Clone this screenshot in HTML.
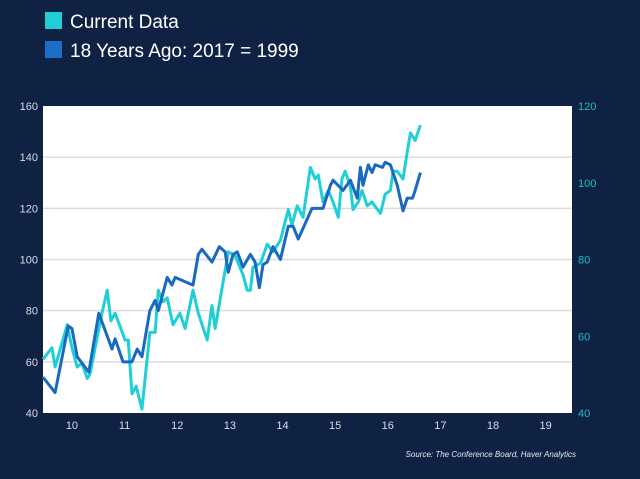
<!DOCTYPE html>
<html><head><meta charset="utf-8"><style>
html,body{margin:0;padding:0;background:#102243;}
svg{display:block;font-family:"Liberation Sans",Arial,sans-serif;}
</style></head><body>
<svg id="chart" width="640" height="479" viewBox="0 0 640 479">
<rect width="640" height="479" fill="#102243"/>
<g>
<rect x="45" y="12" width="17" height="17" fill="#1fcfd6"/>
<text x="70" y="28" font-size="19" fill="#ffffff">Current Data</text>
<rect x="45" y="41" width="17" height="17" fill="#1a6fc9"/>
<text x="70" y="57" font-size="19" fill="#ffffff">18 Years Ago: 2017 = 1999</text>
</g>
<rect x="43" y="106" width="529" height="307" fill="#ffffff"/>
<g id="grid"></g><g id="axes"></g><g id="series"></g>
<text x="576" y="457" font-size="8" font-style="italic" fill="#e6e9f0" text-anchor="end">Source: The Conference Board, Haver Analytics</text>
</svg>
<script>
const leftTicks=[40,60,80,100,120,140,160];
const rightTicks=[40,60,80,100,120];
const xTicks=[10,11,12,13,14,15,16,17,18,19];
const pastX=[9.45,9.68,9.93,10.0,10.1,10.32,10.51,10.76,10.82,10.97,11.14,11.24,11.33,11.48,11.58,11.64,11.81,11.9,11.96,12.3,12.4,12.47,12.66,12.8,12.91,12.97,13.06,13.14,13.25,13.39,13.48,13.56,13.63,13.71,13.82,13.96,14.11,14.2,14.3,14.56,14.77,14.91,14.96,15.15,15.29,15.42,15.48,15.53,15.63,15.7,15.76,15.9,15.95,16.05,16.18,16.29,16.37,16.47,16.52,16.62];
const pastY=[54,48,74,73,62,56,79,65,69,60,60,65,62,80,84,80,93,90,93,90,102,104,99,105,103,95,102,103,97,102,99,89,98,99,105,100,113,113,108,120,120,129,131,127,131,124,136,129,137,134,137,136,138,137,129,119,124,124,127,134];
const curX=[9.45,9.62,9.68,9.91,10.0,10.1,10.19,10.29,10.34,10.57,10.67,10.74,10.82,11.01,11.07,11.14,11.22,11.33,11.48,11.58,11.64,11.73,11.81,11.92,12.05,12.15,12.3,12.4,12.57,12.66,12.72,12.97,13.1,13.25,13.33,13.39,13.44,13.58,13.71,13.82,13.96,14.11,14.18,14.28,14.39,14.53,14.62,14.68,14.77,14.87,14.96,15.06,15.13,15.19,15.29,15.34,15.44,15.51,15.61,15.7,15.86,15.95,16.05,16.1,16.18,16.29,16.37,16.43,16.52,16.62];
const curY=[54,57,52,63,57,52,53,49,50,66,72,64,66,59,59,45,47,41,61,61,72,69,70,63,66,62,72,66,59,68,62,82,81,76,72,72,78,79,84,82,85,93,89,94,91,104,101,102,95,98,95,91,101,103,99,93,95,98,94,95,92,97,98,103,103,101,108,113,111,115];
const X0=43,X1=572,Y0=413,Y1=106;
const xs=v=>X0+(v-9.45)/(19.5-9.45)*(X1-X0);
const yL=v=>Y0+(v-40)/(160-40)*(Y1-Y0);
const yR=v=>Y0+(v-40)/(120-40)*(Y1-Y0);
const NS="http://www.w3.org/2000/svg";
function mk(t,a,p){const e=document.createElementNS(NS,t);for(const k in a)e.setAttribute(k,a[k]);p.appendChild(e);return e;}
const grid=document.getElementById('grid'),axes=document.getElementById('axes'),ser=document.getElementById('series');
leftTicks.forEach(t=>{
 if(t>40&&t<160){const g=mk('line',{x1:X0,x2:X1,y1:yL(t),y2:yL(t),stroke:'#dcdcdc','stroke-width':1.5},grid);
 
 }
 const l=mk('text',{x:38,y:yL(t)+4,'font-size':11,fill:'#d8dce6','text-anchor':'end'},axes);l.textContent=t;
 
 
});
rightTicks.forEach(t=>{
 const l=mk('text',{x:578,y:yR(t)+4,'font-size':11,fill:'#1fbcc8'},axes);l.textContent=t;
 
 
});
xTicks.forEach(t=>{
 const l=mk('text',{x:xs(t),y:429,'font-size':11,fill:'#d8dce6','text-anchor':'middle'},axes);l.textContent=t;
 
 
});
const c=mk('polyline',{points:curX.map((x,i)=>xs(x)+','+yR(curY[i])).join(' '),fill:'none',stroke:'#1fcfd6','stroke-width':3,'stroke-linejoin':'round'},ser);


const p=mk('polyline',{points:pastX.map((x,i)=>xs(x)+','+yL(pastY[i])).join(' '),fill:'none',stroke:'#1a68c2','stroke-width':3,'stroke-linejoin':'round'},ser);


</script>
</body></html>
